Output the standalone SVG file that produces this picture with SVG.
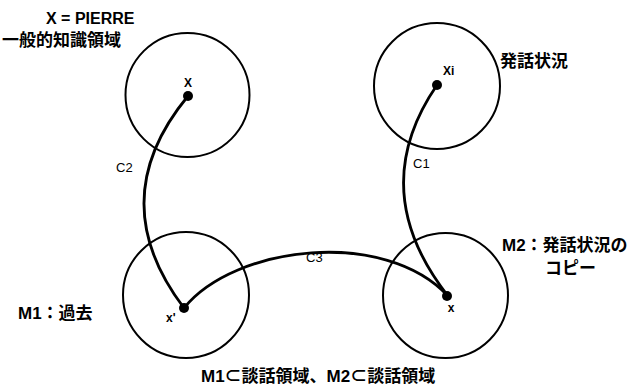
<svg xmlns="http://www.w3.org/2000/svg" width="633" height="392" viewBox="0 0 633 392">
<style>
.c{fill:none;stroke:#000;stroke-width:2}
.e{fill:none;stroke:#000;stroke-width:2.8;stroke-linecap:round}
.d{fill:#000}
text{font-family:"Liberation Sans","Noto Sans CJK JP",sans-serif;font-weight:bold;fill:#000}
.t{font-size:17px}
.s{font-size:13px;font-weight:normal}
.v{font-size:12px}
</style>
<rect width="633" height="392" fill="#fff"/>
<g id="connectors">
<path id="C2" class="e" d="M188,96 Q102,200 184,308"/>
<path id="C1" class="e" d="M437,85 Q365,190 448,296"/>
<path id="C3" class="e" d="M184,308 C235,245 385,228 448,296"/>
<text class="s" x="116" y="172">C2</text>
<text class="s" x="413" y="168">C1</text>
<text class="s" x="306" y="262">C3</text>
</g>
<g id="node-X">
<circle class="c" cx="187.5" cy="95" r="62"/>
<circle class="d" cx="188" cy="96" r="5"/>
<text class="v" x="188" y="87" text-anchor="middle">X</text>
</g>
<g id="node-Xi">
<circle class="c" cx="437" cy="86" r="63"/>
<circle class="d" cx="437" cy="85" r="5"/>
<text class="v" x="443" y="75">Xi</text>
</g>
<g id="node-x1">
<circle class="c" cx="186" cy="295" r="63"/>
<circle class="d" cx="184" cy="308" r="5"/>
<text class="v" x="166" y="322">x'</text>
</g>
<g id="node-x">
<circle class="c" cx="445.5" cy="295.5" r="62.5"/>
<circle class="d" cx="447" cy="296" r="5"/>
<text class="v" x="451" y="312" text-anchor="middle">x</text>
</g>
<g id="labels">
<text font-size="16" x="46" y="24">X = PIERRE</text>
<text class="t" x="2" y="46">一般的知識領域</text>
<text class="t" x="500" y="67">発話状況</text>
<text class="t" x="502" y="251">M2：発話状況の</text>
<text class="t" x="545" y="274">コピー</text>
<text class="t" x="18" y="319">M1：過去</text>
<text class="t" x="201" y="382">M1⊂談話領域、M2⊂談話領域</text>
</g>
</svg>
